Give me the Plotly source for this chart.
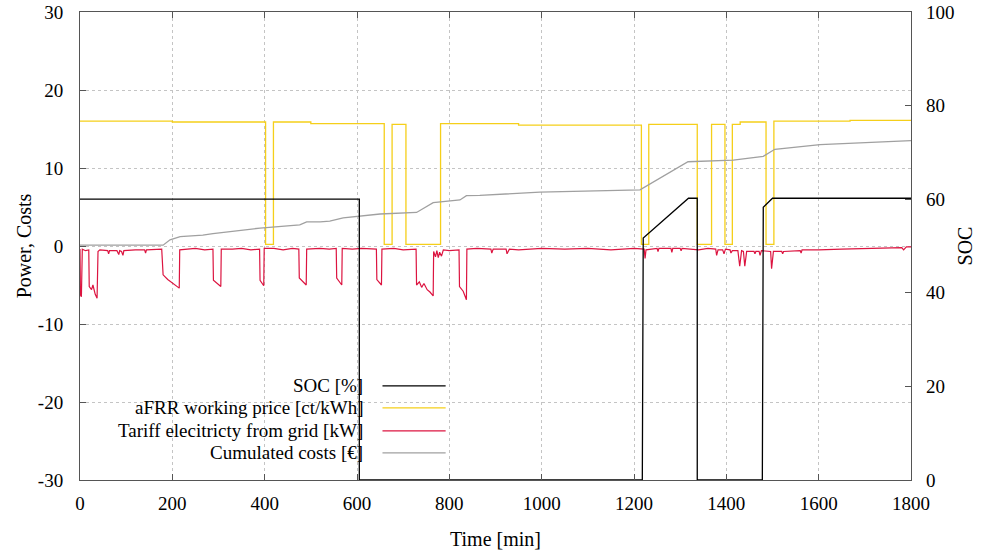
import plotly.graph_objects as go

# ---------------- data ----------------
soc_t = [0, 605, 605, 1218, 1220, 1318, 1337, 1337, 1478, 1480, 1500, 1800]
soc_v = [60, 60, 0, 0, 51.7, 60.2, 60.2, 0, 0, 58.3, 60.2, 60.2]

afrr_t = [0, 200, 200, 402, 402, 419, 419, 500, 500, 659, 659, 676, 676, 706, 706, 781, 781,
          950, 950, 1216, 1216, 1232, 1232, 1337, 1337, 1368, 1368, 1397, 1397, 1413, 1413,
          1430, 1430, 1486, 1486, 1503, 1503, 1668, 1668, 1800]
afrr_v = [16.0, 16.0, 15.9, 15.9, 0.2, 0.2, 15.9, 15.9, 15.7, 15.7, 0.2, 0.2, 15.6, 15.6, 0.2, 0.2, 15.7,
          15.7, 15.5, 15.5, 0.2, 0.2, 15.6, 15.6, 0.2, 0.2, 15.6, 15.6, 0.2, 0.2, 15.6,
          15.6, 15.9, 15.9, 0.2, 0.2, 16.0, 16.0, 16.1, 16.1]

grid_t = [0, 1, 3, 5, 12, 19, 20, 25, 28, 33, 37, 39, 43, 60, 62, 64, 80, 84, 86, 90, 93, 95,
          120, 140, 142, 144, 177, 180, 190, 200, 210, 215, 216, 230, 250, 270, 288, 289, 300,
          305, 306, 330, 350, 370, 389, 390, 398, 399, 420, 440, 460, 474, 475, 490, 491, 520,
          540, 555, 556, 567, 568, 590, 610, 642, 643, 653, 654, 680, 700, 728, 729, 735, 740,
          745, 752, 758, 765, 766, 770, 773, 776, 779, 783, 787, 800, 821, 822, 830, 837, 838,
          860, 890, 892, 895, 923, 925, 930, 950, 1000, 1050, 1100, 1150, 1200, 1222, 1224,
          1226, 1250, 1252, 1254, 1280, 1282, 1284, 1300, 1302, 1304, 1340, 1360, 1377, 1379,
          1382, 1392, 1395, 1398, 1408, 1410, 1413, 1425, 1429, 1433, 1437, 1440, 1444, 1460,
          1462, 1464, 1471, 1473, 1476, 1496, 1498, 1502, 1520, 1522, 1524, 1560, 1562, 1564,
          1600, 1650, 1700, 1750, 1780, 1784, 1790, 1800]
grid_v = [-0.4, -6.3, -6.5, -0.4, -0.6, -0.5, -5.2, -5.6, -5.0, -6.2, -6.7, -0.7, -0.5, -0.6, -1.0,
          -0.6, -0.6, -1.1, -0.6, -0.7, -1.2, -0.6, -0.5, -0.5, -0.9, -0.5, -0.4, -3.7, -4.3,
          -4.7, -5.1, -5.4, -0.5, -0.4, -0.3, -0.5, -0.4, -4.4, -4.9, -5.2, -0.4, -0.4, -0.3,
          -0.5, -0.4, -4.4, -5.1, -0.3, -0.3, -0.5, -0.3, -0.4, -4.1, -5.0, -0.4, -0.3, -0.4,
          -0.3, -4.1, -5.0, -0.3, -0.4, -0.3, -0.4, -4.3, -5.0, -0.4, -0.3, -0.5, -0.4, -5.0,
          -4.6, -5.3, -4.8, -5.6, -5.9, -6.4, -0.7, -1.4, -0.6, -1.5, -0.8, -1.3, -0.5, -0.6,
          -0.5, -5.2, -5.8, -6.9, -0.4, -0.3, -0.4, -0.9, -0.4, -0.4, -1.0, -0.4, -0.5, -0.3,
          -0.4, -0.3, -0.5, -0.3, -0.4, -1.6, -0.5, -0.3, -0.7, -0.3, -0.3, -0.8, -0.3, -0.3,
          -0.6, -0.3, -0.5, -0.3, -0.4, -1.2, -0.5, -0.5, -1.0, -0.4, -0.5, -0.9, -0.6, -0.6,
          -2.6, -0.6, -0.7, -2.6, -0.7, -0.7, -1.0, -0.7, -0.7, -1.2, -0.6, -0.7, -2.9, -0.7,
          -0.7, -1.0, -0.7, -0.6, -0.9, -0.5, -0.5, -0.4, -0.3, -0.2, -0.2, -0.5, -0.1, -0.1]

cost_t = [0, 180, 195, 217, 266, 288, 390, 476, 491, 520, 541, 570, 650, 729, 765, 823, 837, 866,
          996, 1213, 1317, 1415, 1480, 1505, 1603, 1800]
cost_v = [0.1, 0.1, 0.8, 1.2, 1.4, 1.6, 2.3, 2.7, 3.1, 3.1, 3.2, 3.6, 4.1, 4.3, 5.55, 5.9, 6.45,
          6.5, 6.9, 7.2, 10.8, 11.0, 11.5, 12.4, 13.0, 13.5]

names = ["SOC [%]", "aFRR working price [ct/kWh]", "Tariff elecitricty from grid [kW]",
         "Cumulated costs [€]"]

y_ticks = [-30, -20, -10, 0, 10, 20, 30]
y_ticktext = ["-30", "-20", "-10", "0", "10", "20", "30"]
y2_ticks = [0, 20, 40, 60, 80, 100]

C_SOC = "#000000"
C_AFRR = "#f5cf1a"
C_GRID = "#dc1440"
C_COST = "#a0a0a0"
C_BOX = "#555555"
FONT = "Liberation Serif, Times New Roman, serif"
FS = 19
TF = dict(family=FONT, size=FS, color="black")
TT = dict(family=FONT, size=20, color="black")

fig = go.Figure()
fig.add_trace(go.Scatter(x=afrr_t, y=afrr_v, mode="lines", line=dict(color=C_AFRR, width=1.3),
                         name=names[1], showlegend=False))
fig.add_trace(go.Scatter(x=grid_t, y=grid_v, mode="lines", line=dict(color=C_GRID, width=1.2),
                         name=names[2], showlegend=False))
fig.add_trace(go.Scatter(x=cost_t, y=cost_v, mode="lines", line=dict(color=C_COST, width=1.3),
                         name=names[3], showlegend=False))
fig.add_trace(go.Scatter(x=soc_t, y=soc_v, mode="lines", line=dict(color=C_SOC, width=1.3),
                         name=names[0], yaxis="y2", showlegend=False))

# gnuplot-style legend: text right-aligned, line sample to the right
leg_y = [0.201, 0.154, 0.105, 0.058]
leg_c = [C_SOC, C_AFRR, C_GRID, C_COST]
for nm, yy, cc in zip(names, leg_y, leg_c):
    fig.add_annotation(x=0.343, y=yy, xref="paper", yref="paper", text=nm, showarrow=False,
                       xanchor="right", yanchor="middle", font=TF)
    fig.add_shape(type="line", xref="paper", yref="paper", x0=0.364, x1=0.440, y0=yy, y1=yy,
                  line=dict(color=cc, width=1.3))

fig.update_layout(
    width=986, height=554,
    margin=dict(l=80, r=75, t=12, b=74, autoexpand=False),
    paper_bgcolor="white", plot_bgcolor="white",
    font=TF,
    showlegend=False,
    xaxis=dict(range=[0, 1800], dtick=200, tick0=0, showgrid=True, gridcolor="#c4c4c4",
               griddash="dot", gridwidth=1, zeroline=False, showline=True, linecolor=C_BOX,
               linewidth=1, mirror="ticks", ticks="inside", ticklen=6, tickcolor=C_BOX,
               automargin=False, ticklabelstandoff=6, tickfont=TF,
               title=dict(text="Time [min]", standoff=19, font=TT)),
    yaxis=dict(range=[-30, 30], tickvals=y_ticks, ticktext=y_ticktext, showgrid=True,
               gridcolor="#c4c4c4", griddash="dot", gridwidth=1, zeroline=False, showline=True,
               linecolor=C_BOX, linewidth=1, mirror=True, ticks="inside", ticklen=6,
               tickcolor=C_BOX, automargin=False, ticklabelstandoff=12, tickfont=TF,
               title=dict(text="Power, Costs", standoff=0, font=TT)),
    yaxis2=dict(range=[0, 100], tickvals=y2_ticks, overlaying="y", side="right", showgrid=False,
                zeroline=False, showline=False, ticks="inside", ticklen=6, tickcolor=C_BOX,
                automargin=False, ticklabelstandoff=14, tickfont=TF,
                title=dict(text="SOC", standoff=4, font=TT)),
)

fig.write_html("out.html", config={"displayModeBar": False},
               post_script="document.body.style.margin='0';")
